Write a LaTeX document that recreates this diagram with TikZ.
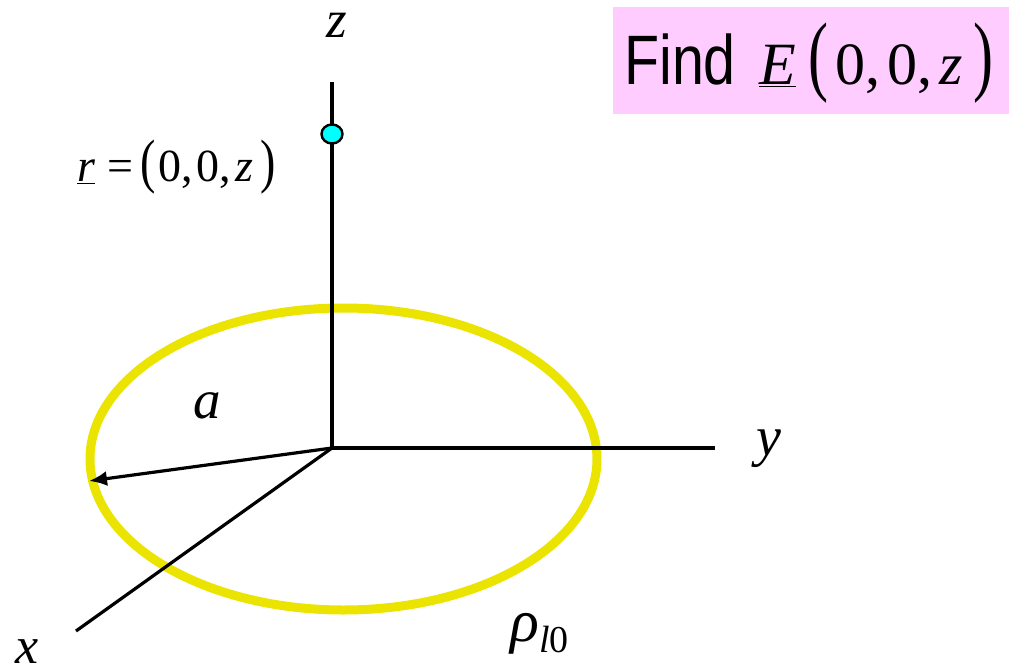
\documentclass[tikz,border=0pt]{standalone}
\usepackage{fontspec}
\usepackage{graphicx}
\setmainfont{Liberation Serif}
\newfontfamily\arialf{Liberation Sans}
\usetikzlibrary{arrows.meta,shapes.geometric}
\newcommand\tallp[2]{\scalebox{1}[#1]{#2}}
\definecolor{ringyellow}{RGB}{234,228,0}
\definecolor{boxpink}{RGB}{255,204,255}
\definecolor{dotcyan}{RGB}{0,255,255}
\tikzset{
  axis/.style={line width=3.2pt, black},
  ring/.style={line width=9pt, ringyellow},
  lbl/.style={inner sep=0pt, anchor=base},
  radius arrow/.style={line width=3.2pt, -{Latex[length=18pt,width=15pt]}},
  pointdot/.style={ellipse, draw=black, line width=2.4pt, fill=dotcyan, minimum width=21pt, minimum height=19pt, inner sep=0pt},
}
\begin{document}
\begin{tikzpicture}[x=1pt,y=-1pt]
\useasboundingbox (0,0) rectangle (1009,671);
% title box
\node[fill=boxpink, inner sep=0pt, minimum width=396pt, minimum height=107pt, anchor=north west] (box) at (613,7) {};
\node[lbl, anchor=base west] (find) at (624,85) {\arialf\fontsize{70}{70}\selectfont\scalebox{0.82}[1]{Find}};
\node[lbl, anchor=base west] (Ef) at (759,85) {\fontsize{60}{60}\selectfont\underline{\textit{E}}};
\node[lbl, anchor=base west] (args) at (808,85) {\fontsize{60}{60}\selectfont\tallp{1.48}{(}\hspace{7pt}0,\hspace{7pt}0,\hspace{7pt}\textit{z}\hspace{11pt}\tallp{1.48}{)}};
% ring
\coordinate (C) at (343.5,459);
\draw[ring] (C) ellipse [x radius=253.5pt, y radius=151pt];
% axes
\coordinate (O) at (332,448);
\coordinate (ztop) at (332,82);
\coordinate (yend) at (715,448);
\coordinate (xend) at (76,631);
\coordinate (tip) at (89,481);
\draw[axis] (O) -- (ztop);
\draw[axis] (O) -- (yend);
\draw[axis] (O) -- (xend);
\draw[radius arrow] (O) -- (tip);
\node[pointdot] (P) at (332,134) {};
% labels
\node[lbl] (zl) at (337,38) {\fontsize{53}{53}\selectfont\textit{z}};
\node[lbl] (yl) at (769,455) {\fontsize{56}{56}\selectfont\textit{y}};
\node[lbl] (xl) at (27,663) {\fontsize{52}{52}\selectfont\textit{x}};
\node[lbl] (al) at (207,418) {\fontsize{55}{55}\selectfont\textit{a}};
\node[lbl, anchor=base west] (rho) at (510,641) {\fontsize{60}{60}\selectfont\textit{ρ}\raisebox{-11pt}{\fontsize{38}{38}\selectfont\textit{l}0}};
\node[lbl, anchor=base west] (rl) at (77,182) {\fontsize{46}{46}\selectfont\underline{\textit{r}}\hspace{12pt}=\hspace{7pt}\tallp{1.3}{(}\hspace{3pt}0,\hspace{4pt}0,\hspace{4pt}\textit{z}\hspace{7pt}\tallp{1.3}{)}};
\end{tikzpicture}
\end{document}
